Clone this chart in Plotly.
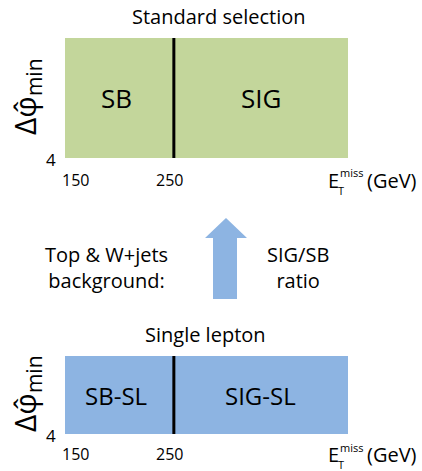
import plotly.graph_objects as go

# ---- data ----
edges = [150, 250, 410]            # MET region edges (GeV)
tick_vals = [150, 250]
tick_labels = ["150", "250"]
dphi_min_cut = 4
dphi_top = 10
top_regions = ["SB", "SIG"]
bottom_regions = ["SB-SL", "SIG-SL"]
top_title = "Standard selection"
bottom_title = "Single lepton"
left_text = "Top & W+jets<br>background:"
right_text = "SIG/SB<br>ratio"

W, H = 422, 471
FONT = "Open Sans"
GREEN = "#C3D69B"
BLUE = "#8DB4E2"

def px(x):
    return x / W

def py(y):
    return 1 - y / H

fig = go.Figure()
layout = dict(
    width=W, height=H, margin=dict(l=0, r=0, t=0, b=0),
    paper_bgcolor="white", plot_bgcolor="white", showlegend=False,
    font=dict(family=FONT, color="black"),
    xaxis=dict(domain=[px(65), px(348)], range=[edges[0], edges[-1]], visible=False, anchor="y"),
    yaxis=dict(domain=[py(158), py(38)], range=[dphi_min_cut, dphi_top], visible=False, anchor="x"),
    xaxis2=dict(domain=[px(65), px(348)], range=[edges[0], edges[-1]], visible=False, anchor="y2"),
    yaxis2=dict(domain=[py(434), py(356)], range=[dphi_min_cut, dphi_top], visible=False, anchor="x2"),
)
fig.update_layout(**layout)

shapes = []
annotations = []

def ann(**kw):
    kw.setdefault("showarrow", False)
    kw.setdefault("xanchor", "center")
    kw.setdefault("yanchor", "middle")
    annotations.append(kw)

panels = [
    ("x", "y", GREEN, top_regions, top_title, 219, 17, 180, 26, 97, 26),
    ("x2", "y2", BLUE, bottom_regions, bottom_title, 205, 334, 454, 26, 394, 24),
]
for xr, yr, col, regs, title, tx, ty, ytick, lx, ly, rsize in panels:
    shapes.append(dict(type="rect", xref=xr, yref=yr, x0=edges[0], x1=edges[-1],
                       y0=dphi_min_cut, y1=dphi_top, fillcolor=col, line=dict(width=0), layer="below"))
    shapes.append(dict(type="line", xref=xr, yref=yr, x0=edges[1], x1=edges[1],
                       y0=dphi_min_cut, y1=dphi_top, line=dict(color="black", width=3)))
    for i, r in enumerate(regs):
        ann(xref=xr, yref=yr, x=(edges[i] + edges[i + 1]) / 2 - (3 if i == 0 else 0),
            y=(dphi_min_cut + dphi_top) / 2, text=r, font=dict(size=rsize))
    ann(xref="paper", yref="paper", x=px(tx), y=py(ty), text=title, font=dict(size=20))
    # tick labels
    ann(xref=xr, yref="paper", x=tick_vals[0], y=py(ytick), xanchor="left", xshift=-5,
        text=tick_labels[0], font=dict(size=16))
    ann(xref=xr, yref="paper", x=tick_vals[1], y=py(ytick), xshift=-4,
        text=tick_labels[1], font=dict(size=16))
    ann(xref="paper", yref=yr, x=px(58), y=dphi_min_cut, xanchor="right",
        yshift=-1, text=str(dphi_min_cut), font=dict(size=17))
    # axis title x
    ann(xref="paper", yref="paper", x=px(326), y=py(ytick), xanchor="left",
        text="E", font=dict(size=20))
    ann(xref="paper", yref="paper", x=px(338), y=py(ytick - 7), xanchor="left",
        text="miss", font=dict(size=11))
    ann(xref="paper", yref="paper", x=px(336), y=py(ytick + 10), xanchor="left",
        text="T", font=dict(size=11))
    ann(xref="paper", yref="paper", x=px(419), y=py(ytick), xanchor="right",
        text="(GeV)", font=dict(size=20))
    # axis title y
    ann(xref="paper", yref="paper", x=px(lx), y=py(ly), textangle=-90,
        text="Δφ\u0302<sub>min</sub>", font=dict(size=30))

# arrow
arrow_path = ("M {a},{b} L {c},{b} L {c},{d} L {e},{d} L {f},{g} L {h},{d} L {i},{d} L {i},{b} Z").format(
    a=px(213), b=py(299), c=px(237), d=py(238), e=px(247), f=px(226), g=py(218), h=px(205), i=px(213))
shapes.append(dict(type="path", xref="paper", yref="paper", path=arrow_path,
                   fillcolor=BLUE, line=dict(width=0)))

ann(xref="paper", yref="paper", x=px(106), y=py(267), text=left_text, font=dict(size=20))
ann(xref="paper", yref="paper", x=px(298), y=py(267), text=right_text, font=dict(size=20))

fig.update_layout(shapes=shapes, annotations=annotations)
fig.write_html("out.html", config={"displayModeBar": False},
               post_script="document.body.style.margin='0';")
